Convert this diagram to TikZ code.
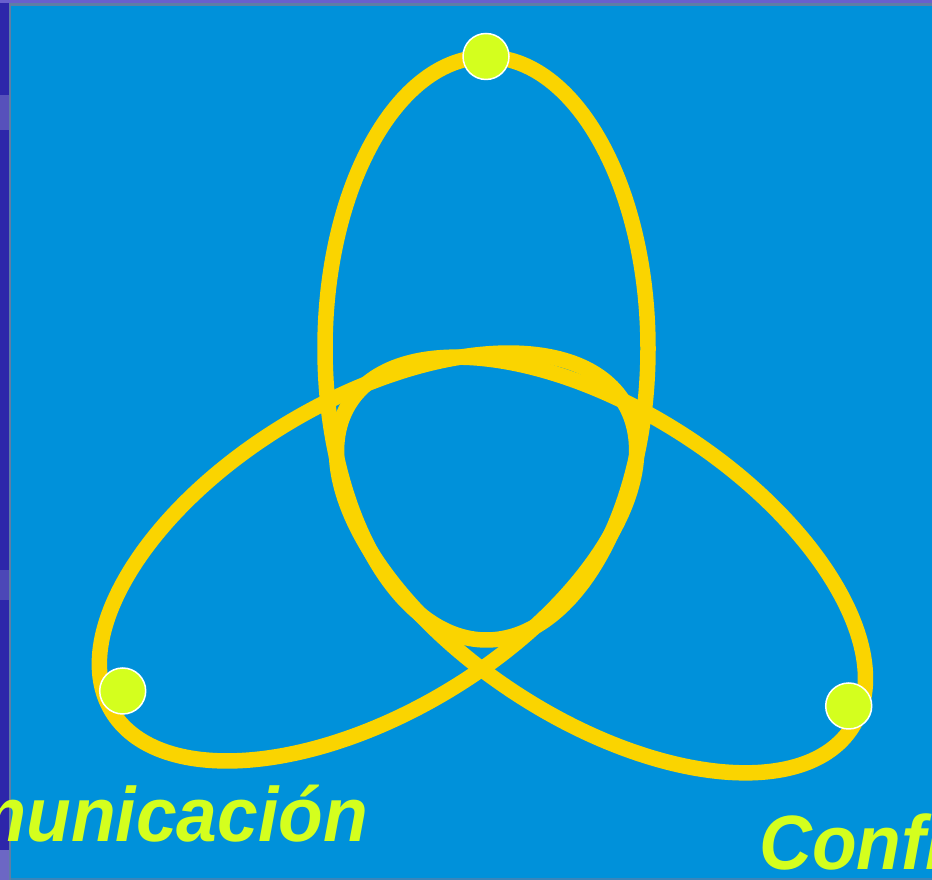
\documentclass[tikz,border=0pt]{standalone}
\usepackage{fontspec}
\setsansfont{Liberation Sans}
\definecolor{bgblue}{RGB}{0,145,218}
\definecolor{stripblue}{RGB}{45,38,170}
\definecolor{topstrip}{RGB}{105,95,205}
\definecolor{edgegray}{RGB}{95,125,165}
\definecolor{ringgold}{RGB}{250,212,0}
\definecolor{lime}{RGB}{212,255,30}
\newcommand{\narrowtext}[1]{\scalebox{0.95}[1]{#1}}
\begin{document}
\begin{tikzpicture}[x=1pt,y=1pt,
  ring/.style={draw=ringgold, line width=15.5pt},
  dotmark/.style={circle, fill=lime, draw=white, line width=1.5pt, minimum size=46pt, inner sep=0pt},
  lbl/.style={text=lime, inner sep=0pt, font=\sffamily\bfseries\itshape\fontsize{77}{80}\selectfont}]
\useasboundingbox (0,0) rectangle (932,880);
\begin{scope}
\clip (0,0) rectangle (932,880);
% background
\fill[bgblue] (0,0) rectangle (932,880);
\fill[stripblue] (0,0) rectangle (9,880);
\fill[stripblue!70!white] (0,0) rectangle (9,30);
\fill[stripblue!80!white] (0,750) rectangle (9,785);
\fill[stripblue!85!white] (0,280) rectangle (9,310);
\fill[topstrip] (0,877) rectangle (932,880);
\fill[edgegray] (9,0) rectangle (11,877);
\fill[edgegray] (9,874) rectangle (932,877);
\fill[edgegray!60!bgblue] (11,0) rectangle (932,2);
% ellipses
\draw[ring] (486.5,531.5) ellipse [x radius=161.5, y radius=291.5];
\draw[ring, rotate around={31:(368,323)}] (368,323) ellipse [x radius=299, y radius=156];
\draw[ring, rotate around={-33:(601,315)}] (601,315) ellipse [x radius=299, y radius=154];
% dots
\node[dotmark] (top) at (486,823.5) {};
\node[dotmark] (left) at (122.7,189) {};
\node[dotmark] (right) at (848.7,174) {};
% labels
\node[lbl, anchor=base east] (com) at (368,38) {\narrowtext{Comunicación}};
\node[lbl, anchor=base west] (conf) at (759,10) {\narrowtext{Confianza}};
\end{scope}
\end{tikzpicture}
\end{document}
